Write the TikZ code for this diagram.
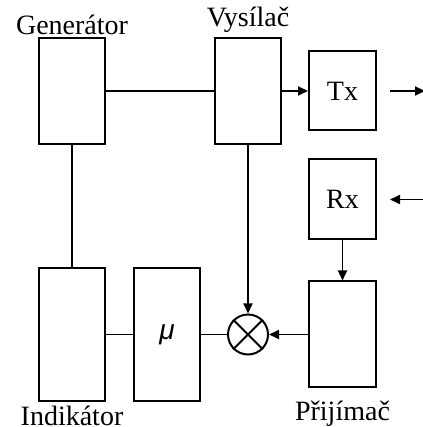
\documentclass[tikz,border=0pt]{standalone}
\usepackage{fontspec}
\setmainfont{Liberation Serif}
\newfontfamily\mufont{Liberation Sans}
\usetikzlibrary{positioning,arrows.meta}
\begin{document}
\begin{tikzpicture}[
        x=1pt, y=1pt,
        every node/.style={font=\fontsize{28}{32}\selectfont},
        block/.style={draw, line width=2pt, minimum width=66pt, inner sep=0pt},
        tall/.style={block, minimum height=133pt},
        mid/.style={block, minimum height=106pt},
        small/.style={block, minimum width=67pt, minimum height=80pt},
        mixer/.style={draw, circle, line width=2pt, minimum size=40pt, inner sep=0pt},
        lbl/.style={inner sep=0pt},
        wire/.style={draw, line width=1.8pt},
        sig/.style={wire, -{Triangle[length=10pt,width=9pt]}},
    ]
    \useasboundingbox (0,0) rectangle (422,427);
    % upper row
    \node[mid, label={[lbl, label distance=4pt]above:Vysílač}] (vys) at (248,336) {};
    \node[small, minimum height=79pt, right=26pt of vys] (tx) {Tx};
    \node[small, below=27pt of tx] (rx) {Rx};
    \node[mid, minimum width=67pt, below=40pt of rx,
        label={[lbl, label distance=12pt]below:Přijímač}] (prij) {};
    % lower row
    \node[mixer] (mix) at (vys |- prij) {};
    \node[tall, left=26pt of mix] (mu) {{\mufont\itshape μ}};
    \node[tall, left=27pt of mu, label={[lbl, label distance=4pt]below:Indikátor}] (ind) {};
    \node[mid, label={[lbl, label distance=2.5pt]above:Generátor}] (gen) at (ind |- vys) {};
    % free ends
    \coordinate[right=13pt of tx] (txa);
    \coordinate[right=48pt of tx] (txb);
    \coordinate[right=13pt of rx] (rxa);
    \coordinate[right=48pt of rx] (rxb);
    % connectors
    \draw[wire] (gen) -- (vys);
    \draw[sig] (vys) -- (tx);
    \draw[sig] (txa) -- (txb);
    \draw[sig] (rxb) -- (rxa);
    \draw[wire] (gen) -- (ind);
    \draw[sig] (vys) -- (mix);
    \draw[sig] (rx) -- (prij);
    \draw[sig] (prij) -- (mix);
    \draw[wire] (ind) -- (mu);
    \draw[wire] (mu) -- (mix);
    \draw[line width=2pt] (mix.45) -- (mix.225) (mix.135) -- (mix.315);
\end{tikzpicture}
\end{document}
